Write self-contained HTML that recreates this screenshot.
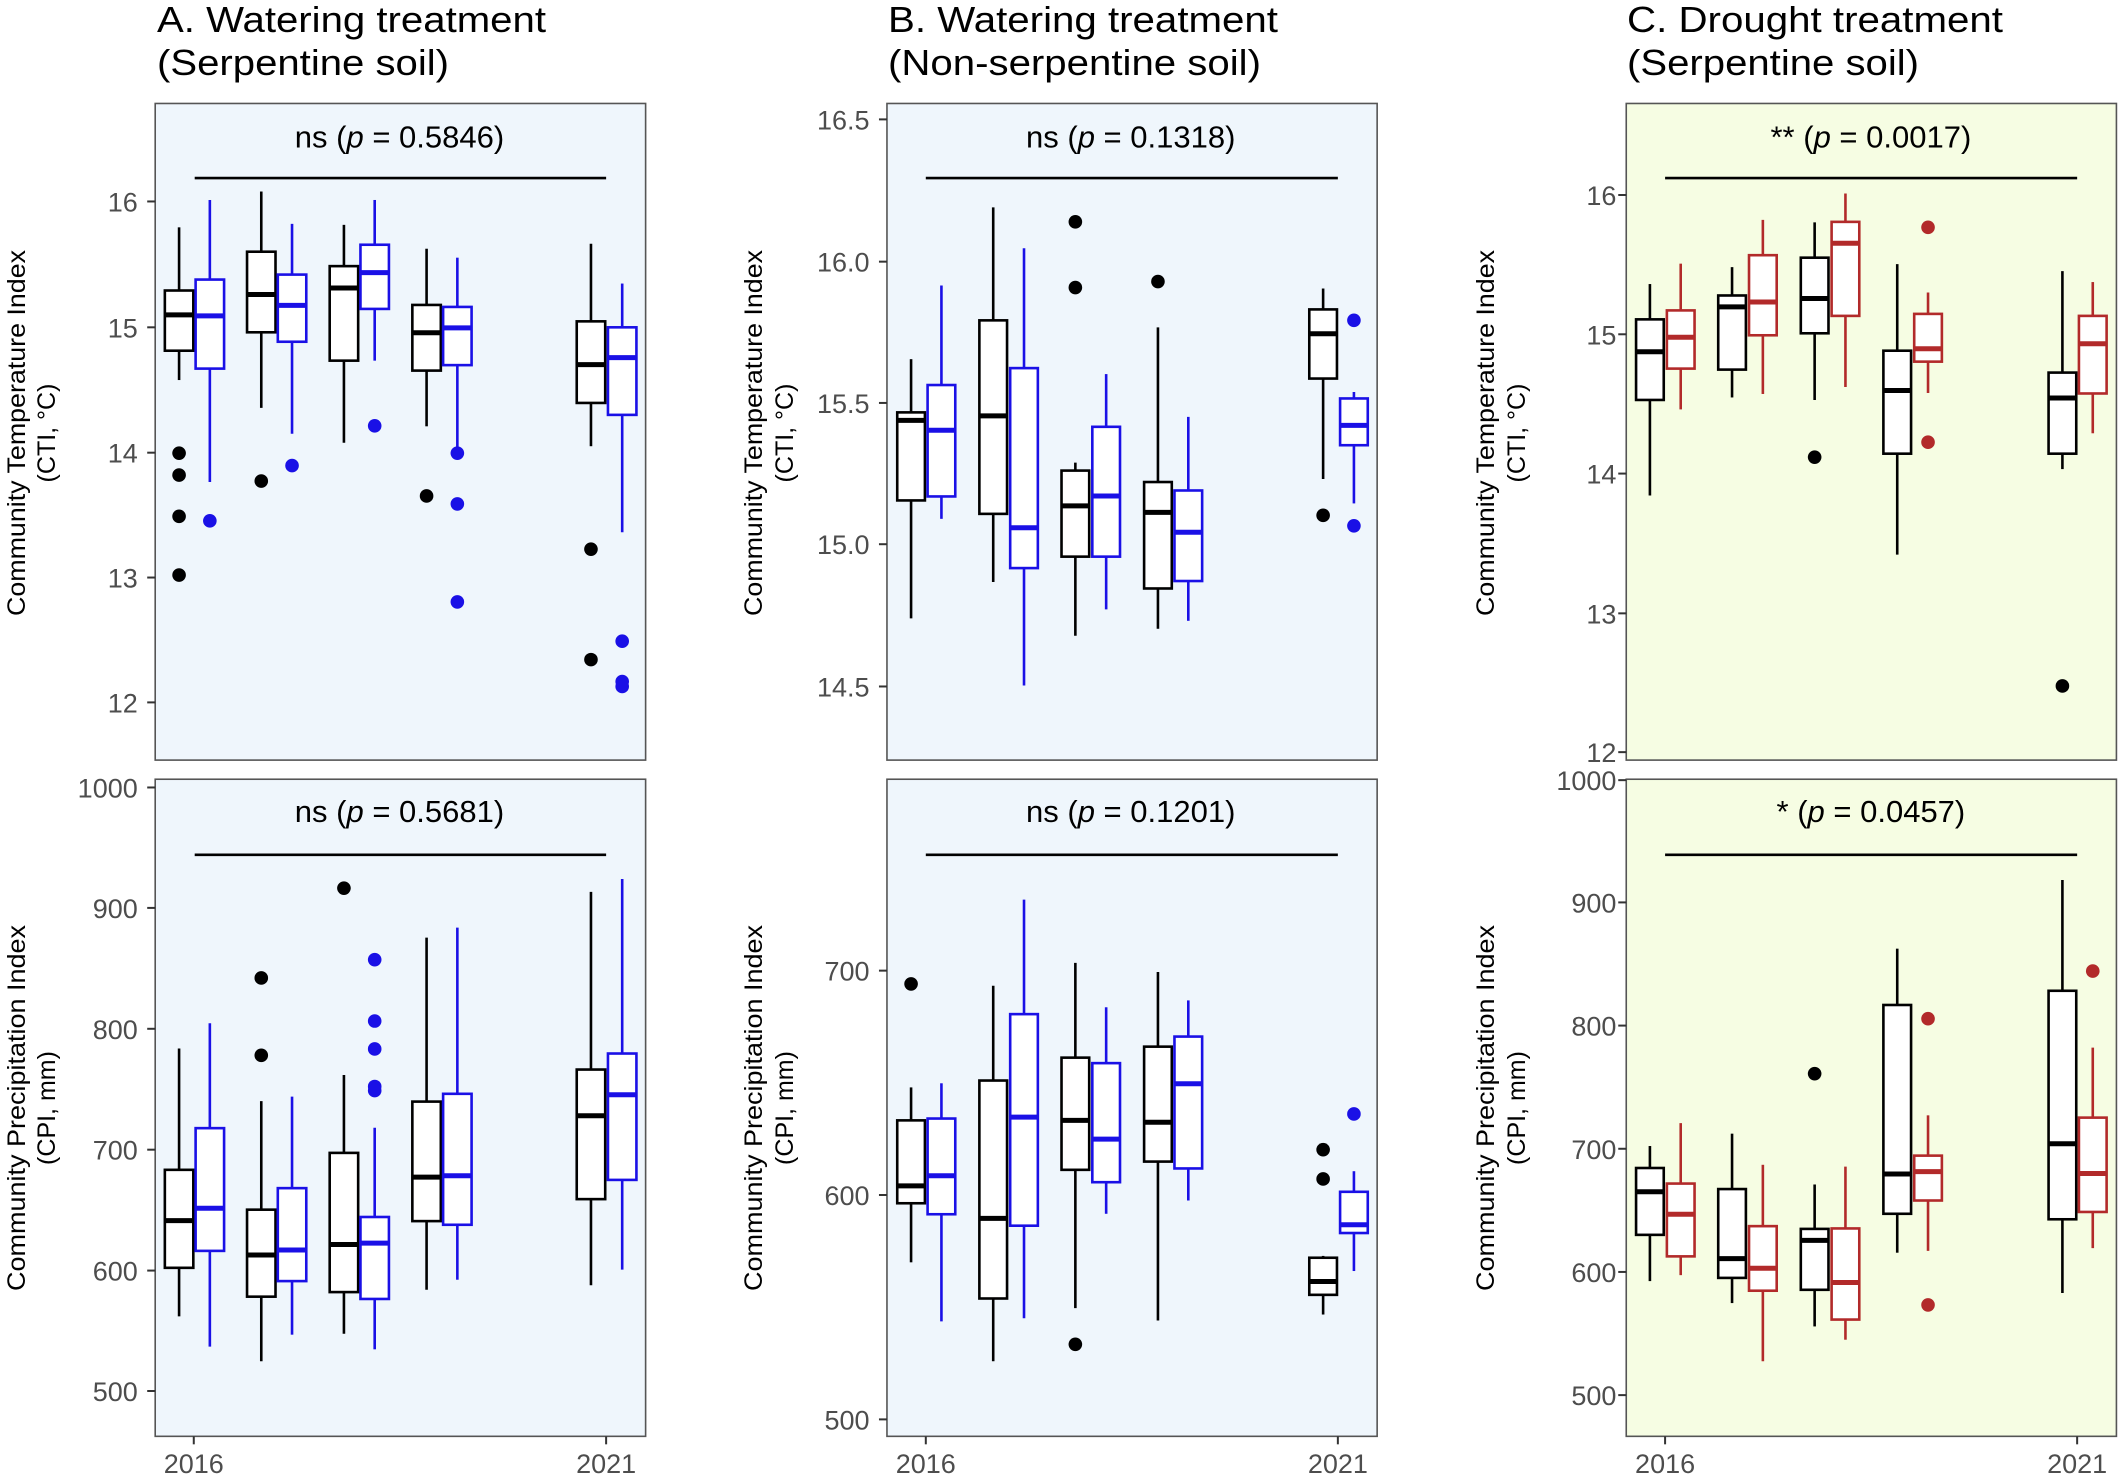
<!DOCTYPE html>
<html><head><meta charset="utf-8"><style>
html,body{margin:0;padding:0;background:#fff;}
svg{display:block;font-family:"Liberation Sans",Arial,sans-serif;}
</style></head><body>
<svg id="s" width="2120" height="1478" viewBox="0 0 2120 1478" xmlns="http://www.w3.org/2000/svg"></svg>
<script>
const S=document.getElementById('s');let h='';
const BLUE='#1a10e6',RED='#b22a2a',BLK='#000';
function P(ox,oy,w,hh){return {ox,oy,sx:1568/w,sy:1568/hh,fx(x){return this.ox+x/this.sx},fy(y){return this.oy+y/this.sy}};}
function panel(p,rect,bg,ticks,labX,sig,line,boxes,col2,xt){
  const x0=p.fx(rect[0]),x1=p.fx(rect[1]),y0=p.fy(rect[2]),y1=p.fy(rect[3]);
  h+=`<rect x="${x0}" y="${y0}" width="${x1-x0}" height="${y1-y0}" fill="${bg}"/>`;
  h+=`<line x1="${p.fx(line[0])}" x2="${p.fx(line[1])}" y1="${p.fy(line[2])}" y2="${p.fy(line[2])}" stroke="#000" stroke-width="2.6"/>`;
  h+=`<text x="${p.fx(sig[1])}" y="${p.fy(sig[2])}" font-size="31" text-anchor="middle" fill="#000">${sig[0]} (<tspan font-style="italic">p</tspan> = ${sig[3]})</text>`;
  const hw=31/p.sx;
  for(const b of boxes){
    const [cx,wt,q3,md,q1,wb,outs,c]=b;const X=p.fx(cx);const col=c?col2:BLK;
    h+=`<line x1="${X}" x2="${X}" y1="${p.fy(wt)}" y2="${p.fy(q3)}" stroke="${col}" stroke-width="2.6"/>`;
    h+=`<line x1="${X}" x2="${X}" y1="${p.fy(q1)}" y2="${p.fy(wb)}" stroke="${col}" stroke-width="2.6"/>`;
    h+=`<rect x="${X-hw}" y="${p.fy(q3)}" width="${2*hw}" height="${p.fy(q1)-p.fy(q3)}" fill="#fff" stroke="${col}" stroke-width="2.6"/>`;
    h+=`<line x1="${X-hw}" x2="${X+hw}" y1="${p.fy(md)}" y2="${p.fy(md)}" stroke="${col}" stroke-width="5"/>`;
    for(const o of outs) h+=`<circle cx="${X}" cy="${p.fy(o)}" r="6.8" fill="${col}"/>`;
  }
  h+=`<rect x="${x0}" y="${y0}" width="${x1-x0}" height="${y1-y0}" fill="none" stroke="#555" stroke-width="1.6"/>`;
  for(const t of ticks){const Y=p.fy(t[0]);
    h+=`<line x1="${x0-8}" x2="${x0}" y1="${Y}" y2="${Y}" stroke="#333" stroke-width="2"/>`;
    h+=`<text x="${p.fx(labX)}" y="${Y+10}" font-size="27" text-anchor="end" fill="#4d4d4d">${t[1]}</text>`;}
  if(xt){for(const t of xt){const X=p.fx(t[0]);
    h+=`<line x1="${X}" x2="${X}" y1="${y1}" y2="${y1+8}" stroke="#333" stroke-width="2"/>`;
    h+=`<text x="${X}" y="1473" font-size="27" text-anchor="middle" fill="#4d4d4d">${t[1]}</text>`;}}
}
function title(x,l1,l2,w1,w2){
  h+=`<text x="${x}" y="32" font-size="36" fill="#000" textLength="${w1}" lengthAdjust="spacingAndGlyphs">${l1}</text>`;
  h+=`<text x="${x}" y="75" font-size="36" fill="#000" textLength="${w2}" lengthAdjust="spacingAndGlyphs">${l2}</text>`;
}
function ytitle(x1,x2,cy,l1,l2,len){
  h+=`<text transform="translate(${x1},${cy}) rotate(-90)" font-size="25" text-anchor="middle" fill="#000" textLength="${len}" lengthAdjust="spacingAndGlyphs">${l1}</text>`;
  h+=`<text transform="translate(${x2},${cy}) rotate(-90)" font-size="25" text-anchor="middle" fill="#000">${l2}</text>`;
}
let pA=P(0,0,720,780), pAb=P(0,760,720,718);
title(157,'A. Watering treatment','(Serpentine soil)',389,292);
panel(pA,[338,1406,208,1528],'#eff6fc',[[405,'16'],[658,'15'],[910,'14'],[1161,'13'],[1412,'12']],300,['ns',870,297,'0.5846'],[424,1320,358],[
[390,457,584,633,705,764,[911,955,1038,1156],0],[457,402,562,635,741,969,[1047],1],
[569,385,506,592,668,820,[967],0],[636,450,552,614,687,872,[936],1],
[749,452,535,579,725,890,[],0],[816,402,492,548,621,725,[856],1],
[929,500,613,669,745,857,[997],0],[996,518,617,659,734,900,[911,1013,1210],1],
[1287,490,646,733,810,897,[1104,1326],0],[1355,570,658,719,834,1070,[1289,1370,1380],1]],BLUE);
panel(pAb,[338,1406,42,1477],'#eff6fc',[[60,'1000'],[323,'900'],[587,'800'],[851,'700'],[1115,'600'],[1378,'500']],300,['ns',870,135,'0.5681'],[424,1320,207],[
[390,630,895,1006,1109,1215,[],0],[457,575,804,979,1072,1281,[],1],
[569,745,982,1081,1172,1313,[476,645],0],[636,735,935,1070,1138,1255,[],1],
[749,688,858,1058,1162,1253,[280],0],[816,803,998,1055,1177,1287,[436,570,631,713,722],1],
[929,388,746,911,1007,1157,[],0],[996,366,729,908,1015,1135,[],1],
[1287,288,676,777,959,1147,[],0],[1355,260,641,731,917,1113,[],1]],BLUE,[[422,'2016'],[1320,'2021']]);
ytitle(25,55,433,'Community Temperature Index','(CTI, °C)',366);
ytitle(25,55,1108,'Community Precipitation Index','(CPI, mm)',366);
let pB=P(720,0,700,780), pBb=P(720,760,700,718);
title(888,'B. Watering treatment','(Non-serpentine soil)',390,373);
panel(pB,[374,1472,208,1528],'#eff6fc',[[240,'16.5'],[526,'16.0'],[810,'15.5'],[1094,'15.0'],[1380,'14.5']],335,['ns',920,297,'0.1318'],[461,1384,358],[
[428,722,829,845,1006,1243,[],0],[496,574,774,865,998,1043,[],1],
[612,417,644,836,1033,1170,[],0],[681,499,740,1061,1142,1378,[],1],
[796,930,946,1017,1119,1278,[446,578],0],[865,752,858,997,1119,1225,[],1],
[981,658,969,1030,1183,1264,[566],0],[1049,838,986,1070,1168,1248,[],1],
[1351,580,622,671,761,963,[1036],0],[1420,788,801,855,895,1012,[644,1057],1]],BLUE);
panel(pBb,[374,1472,42,1477],'#eff6fc',[[460,'700'],[950,'600'],[1440,'500']],335,['ns',920,135,'0.1201'],[461,1384,207],[
[428,715,787,930,968,1097,[489],0],[496,706,783,908,992,1226,[],1],
[612,493,700,1001,1176,1313,[],0],[681,305,555,780,1017,1219,[],1],
[796,443,650,787,895,1197,[1276],0],[865,540,662,828,922,991,[],1],
[981,463,626,791,877,1224,[],0],[1049,525,604,707,892,962,[],1],
[1351,1083,1087,1139,1168,1211,[851,915],0],[1420,898,943,1015,1033,1116,[773],1]],BLUE,[[461,'2016'],[1384,'2021']]);
ytitle(762,793,433,'Community Temperature Index','(CTI, °C)',366);
ytitle(762,793,1108,'Community Precipitation Index','(CPI, mm)',366);
let pC=P(1420,0,700,780), pCb=P(1420,760,700,718);
title(1627,'C. Drought treatment','(Serpentine soil)',376,292);
panel(pC,[462,1560,208,1528],'#f6fde3',[[392,'16'],[672,'15'],[952,'14'],[1233,'13'],[1512,'12']],440,['**',1010,297,'0.0017'],[549,1472,358],[
[515,571,642,707,804,996,[],0],[584,530,624,678,741,823,[],1],
[699,537,594,617,743,799,[],0],[768,442,513,607,674,792,[],1],
[884,447,518,600,670,804,[919],0],[953,389,446,489,635,778,[],1],
[1069,531,705,785,912,1115,[],0],[1138,588,631,701,727,790,[457,889],1],
[1439,545,749,800,912,943,[1379],0],[1507,567,635,691,791,871,[],1]],RED);
panel(pCb,[462,1560,42,1477],'#f6fde3',[[44,'1000'],[311,'900'],[580,'800'],[849,'700'],[1118,'600'],[1387,'500']],440,['*',1010,135,'0.0457'],[549,1472,207],[
[515,843,891,943,1037,1138,[],0],[584,793,925,992,1084,1125,[],1],
[699,816,937,1089,1131,1186,[],0],[768,884,1018,1110,1159,1313,[],1],
[884,927,1024,1049,1157,1237,[685],0],[953,888,1023,1141,1222,1266,[],1],
[1069,412,535,904,991,1076,[],0],[1138,776,864,899,962,1072,[565,1190],1],
[1439,262,504,838,1003,1164,[],0],[1507,628,781,903,987,1066,[461],1]],RED,[[549,'2016'],[1472,'2021']]);
ytitle(1494,1525,433,'Community Temperature Index','(CTI, °C)',366);
ytitle(1494,1525,1108,'Community Precipitation Index','(CPI, mm)',366);
S.innerHTML=h;
</script>
</body></html>
